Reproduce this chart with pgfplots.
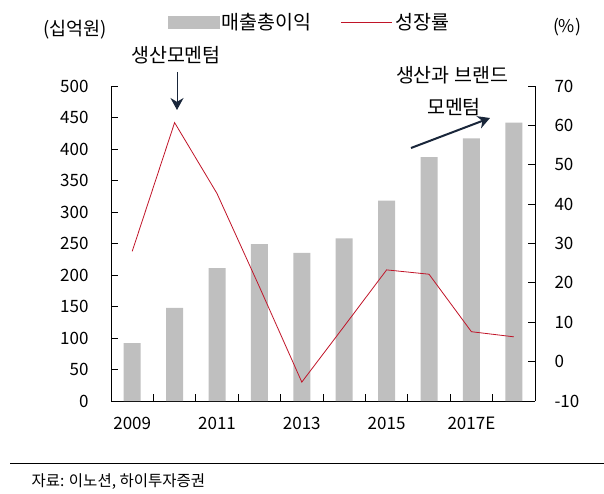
\documentclass[border=0pt]{standalone}
\usepackage{pgfplots}
\pgfplotsset{compat=1.18}
\usetikzlibrary{arrows.meta}
\usepackage{fontspec}
\setmainfont{Noto Sans CJK KR}
\definecolor{bargray}{RGB}{191,191,191}
\definecolor{linered}{RGB}{192,20,40}
\definecolor{arrowblue}{RGB}{25,38,58}
\begin{document}
\begin{tikzpicture}[x=1pt,y=1pt]
\useasboundingbox (0,0) rectangle (604,493);
\pgfplotsset{
  common/.style={
    at={(111pt,92pt)}, anchor=south west,
    scale only axis, width=424pt, height=315pt,
    xmin=-0.5, xmax=9.5,
    tick align=inside,
    major tick length=7pt, minor tick length=7pt,
    tick style={black, line width=0.8pt},
    axis line style={line width=0.8pt},
    tick label style={font=\fontsize{17}{20}\selectfont},
    /pgf/number format/assume math mode=true,
  }
}
\begin{axis}[common,
  ymin=0, ymax=500,
  axis y line*=left, axis x line*=bottom,
  ytick={0,50,...,500},
  xtick={0,2,4,6,8}, xticklabels={2009,2011,2013,2015,2017E},
  minor xtick={0.5,1.5,...,8.5},
  major x tick style={draw=none},
  yticklabel style={xshift=-19pt},
  xticklabel style={yshift=-13pt},
]
\addplot[ybar, bar width=17pt, fill=bargray, draw=none] coordinates {
 (0,92) (1,148) (2,211) (3,249) (4,235) (5,258) (6,318) (7,387) (8,417) (9,442)};
\end{axis}
\begin{axis}[common,
  ymin=-10, ymax=70,
  axis y line*=right, axis x line=none,
  ytick={-10,0,...,70},
  yticklabel style={xshift=16pt},
  legend columns=2,
  legend style={at={(0.469,1.203)}, anchor=center, draw=none, fill=none,
    font=\fontsize{19.5}{22}\selectfont, inner sep=0pt,
    nodes={inner sep=2.5pt},
    /tikz/every even column/.append style={column sep=27pt}},
]
\addlegendimage{legend image code/.code={\fill[bargray] (0pt,-6pt) rectangle (51pt,6pt);}}
\addlegendentry{매출총이익}
\addplot[linered, line width=0.8pt, legend image code/.code={\draw[linered, line width=0.8pt] (0pt,0pt) -- (51pt,0pt);}] coordinates {
 (0,28) (1,60.7) (2,42.7) (3,19) (4,-5.2) (5,9) (6,23.3) (7,22.2) (8,7.6) (9,6.3)};
\addlegendentry{성장률}
\end{axis}
\node[font=\fontsize{18.5}{20}\selectfont] at (75,463) {(십억원)};
\node[font=\fontsize{17.5}{20}\selectfont] at (567,466) {(\%)};
\node[font=\fontsize{19.5}{22}\selectfont] at (176,438) {생산모멘텀};
\draw[arrowblue, line width=1pt, -{Stealth[length=12pt,width=13pt]}] (177,421) -- (177,383);
\node[font=\fontsize{19.5}{22}\selectfont] at (452,418) {생산과 브랜드};
\node[font=\fontsize{19.5}{22}\selectfont] at (454,386) {모멘텀};
\draw[arrowblue, line width=2pt, -{Stealth[length=12pt,width=13pt]}] (411,345) -- (490,375);
\draw[black, line width=0.8pt] (10,30) -- (604,30);
\node[font=\fontsize{15.5}{18}\selectfont, anchor=west] at (28,11) {자료: 이노션, 하이투자증권};
\end{tikzpicture}
\end{document}
